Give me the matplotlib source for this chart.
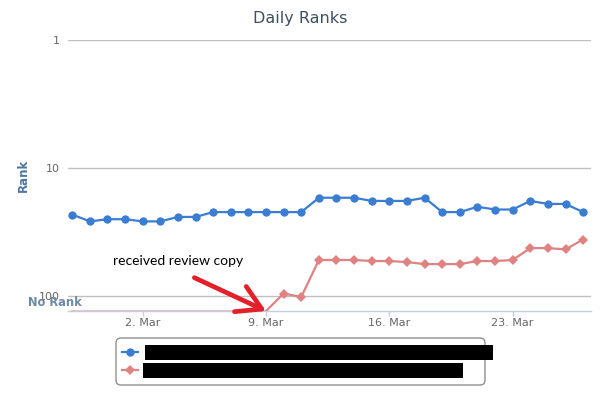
import matplotlib
matplotlib.use("Agg")
import matplotlib.pyplot as plt
import matplotlib.dates as mdates
from matplotlib.patches import FancyBboxPatch, Rectangle
from matplotlib.lines import Line2D
from matplotlib.transforms import Affine2D
import pandas as pd

# ---------------- data ----------------
dates = pd.date_range("2014-02-26", "2014-03-27", freq="D")
NO_RANK = 130  # value used for "No Rank" (bottom of the axis)

blue_ranks = [23, 26, 25, 25, 26, 26, 24, 24, 22, 22,
              22, 22, 22, 22, 17, 17, 17, 18, 18, 18,
              17, 22, 22, 20, 21, 21, 18, 19, 19, 22]

red_ranks = [NO_RANK] * 12 + [95, 101, 52, 52, 52, 53, 53, 54,
                              56, 56, 56, 53, 53, 52, 42, 42, 43, 36]

y_ticks = [1, 10, 100]
y_tick_labels = ["1", "10", "100"]
x_tick_dates = ["2014-03-02", "2014-03-09", "2014-03-16", "2014-03-23"]
x_tick_labels = ["2. Mar", "9. Mar", "16. Mar", "23. Mar"]
annotation_text = "received review copy"
annotation_date = "2014-03-09"

BLUE = "#3a7dd2"
RED = "#e08282"
RED_FAINT = "#e6c0c0"
ARROW_RED = "#e3202a"

# ---------------- figure ----------------
W, H = 600, 400
fig = plt.figure(figsize=(6, 4), dpi=100)
fig.patch.set_facecolor("white")
PX = Affine2D().scale(1 / W, -1 / H).translate(0, 1) + fig.transFigure

ax = fig.add_axes([68 / W, 1 - 311 / H, (590.7 - 68) / W, (311 - 40) / H])
ax.set_yscale("log")
ax.set_ylim(NO_RANK, 1)

x = mdates.date2num(dates.to_pydatetime())
ax.set_xlim(x[0] - 0.24, x[-1] + 0.43)

# blue series
ax.plot(x, blue_ranks, color=BLUE, lw=1.6, marker="o", markersize=6.0,
        markeredgewidth=0, zorder=4)

# red series: unranked part thin, ranked part with markers
first = next(i for i, v in enumerate(red_ranks) if v != NO_RANK)
ax.plot(x[:first], red_ranks[:first], color=RED_FAINT, lw=1.4, zorder=3)
ax.plot(x[first - 1:], red_ranks[first - 1:], color=RED, lw=1.6, marker="D",
        markersize=4.6, markeredgewidth=0,
        markevery=list(range(1, len(red_ranks) - first + 1)), zorder=3)

# axes styling
for s in ["top", "left", "right"]:
    ax.spines[s].set_visible(False)
ax.spines["bottom"].set_color("#c0d0e0")
ax.spines["bottom"].set_linewidth(1)
ax.spines["bottom"].set_zorder(2)

ax.set_yticks(y_ticks)
ax.set_yticklabels(y_tick_labels)
ax.yaxis.set_minor_locator(matplotlib.ticker.NullLocator())
ax.tick_params(axis="y", length=0, pad=6, labelsize=8, labelcolor="#666666")
ax.yaxis.grid(True, color="#c0c0c0", lw=1)
ax.set_axisbelow(True)

ax.set_xticks(mdates.date2num(pd.to_datetime(x_tick_dates).to_pydatetime()))
ax.set_xticklabels(x_tick_labels)
ax.tick_params(axis="x", length=3.6, width=1, color="#c0d0e0", pad=1.5,
               labelsize=8, labelcolor="#666666")

# title and axis titles
fig.text(300 / W, 1 - 18 / H, "Daily Ranks", ha="center", va="center",
         fontsize=11.5, color="#3e4f61")
fig.text(23 / W, 1 - 175.5 / H, "Rank", rotation=90, ha="center", va="center",
         fontsize=8.5, fontweight="bold", color="#4d759e")
fig.text(55 / W, 1 - 302.7 / H, "No Rank", ha="center", va="center",
         fontsize=8.3, fontweight="bold", color="#6f8aa6")

# annotation
xa = mdates.date2num(pd.Timestamp(annotation_date).to_pydatetime())
ax.annotate("", xy=(xa, NO_RANK), xytext=(-51.6, 24), textcoords="offset points",
            arrowprops=dict(arrowstyle="->,head_length=1.7,head_width=1.0",
                            lw=3.4, color=ARROW_RED, mutation_scale=10,
                            shrinkA=0, shrinkB=0),
            annotation_clip=False, zorder=6)
fig.text(178 / W, 1 - 261 / H, annotation_text, ha="center", va="center",
         fontsize=10, color="black", family="Lato")

# legend (manual, with redacted labels)
box = FancyBboxPatch((116, 338), 369, 47, boxstyle="round,pad=0,rounding_size=5",
                     transform=PX, facecolor="white", edgecolor="#909090", lw=1)
fig.patches.append(box)
for yy, col, mk, ms in [(352, BLUE, "o", 6.0), (370, RED, "D", 4.6)]:
    fig.lines.append(Line2D([122, 138], [yy, yy], transform=PX, color=col, lw=1.6))
    fig.lines.append(Line2D([130], [yy], transform=PX, color=col, marker=mk,
                            markersize=ms, markeredgewidth=0))
fig.patches.append(Rectangle((145, 345), 348, 15, transform=PX, facecolor="black",
                             edgecolor="none"))
fig.patches.append(Rectangle((143, 363), 320, 15, transform=PX, facecolor="black",
                             edgecolor="none"))

fig.savefig("out.png", dpi=100, facecolor="white")
